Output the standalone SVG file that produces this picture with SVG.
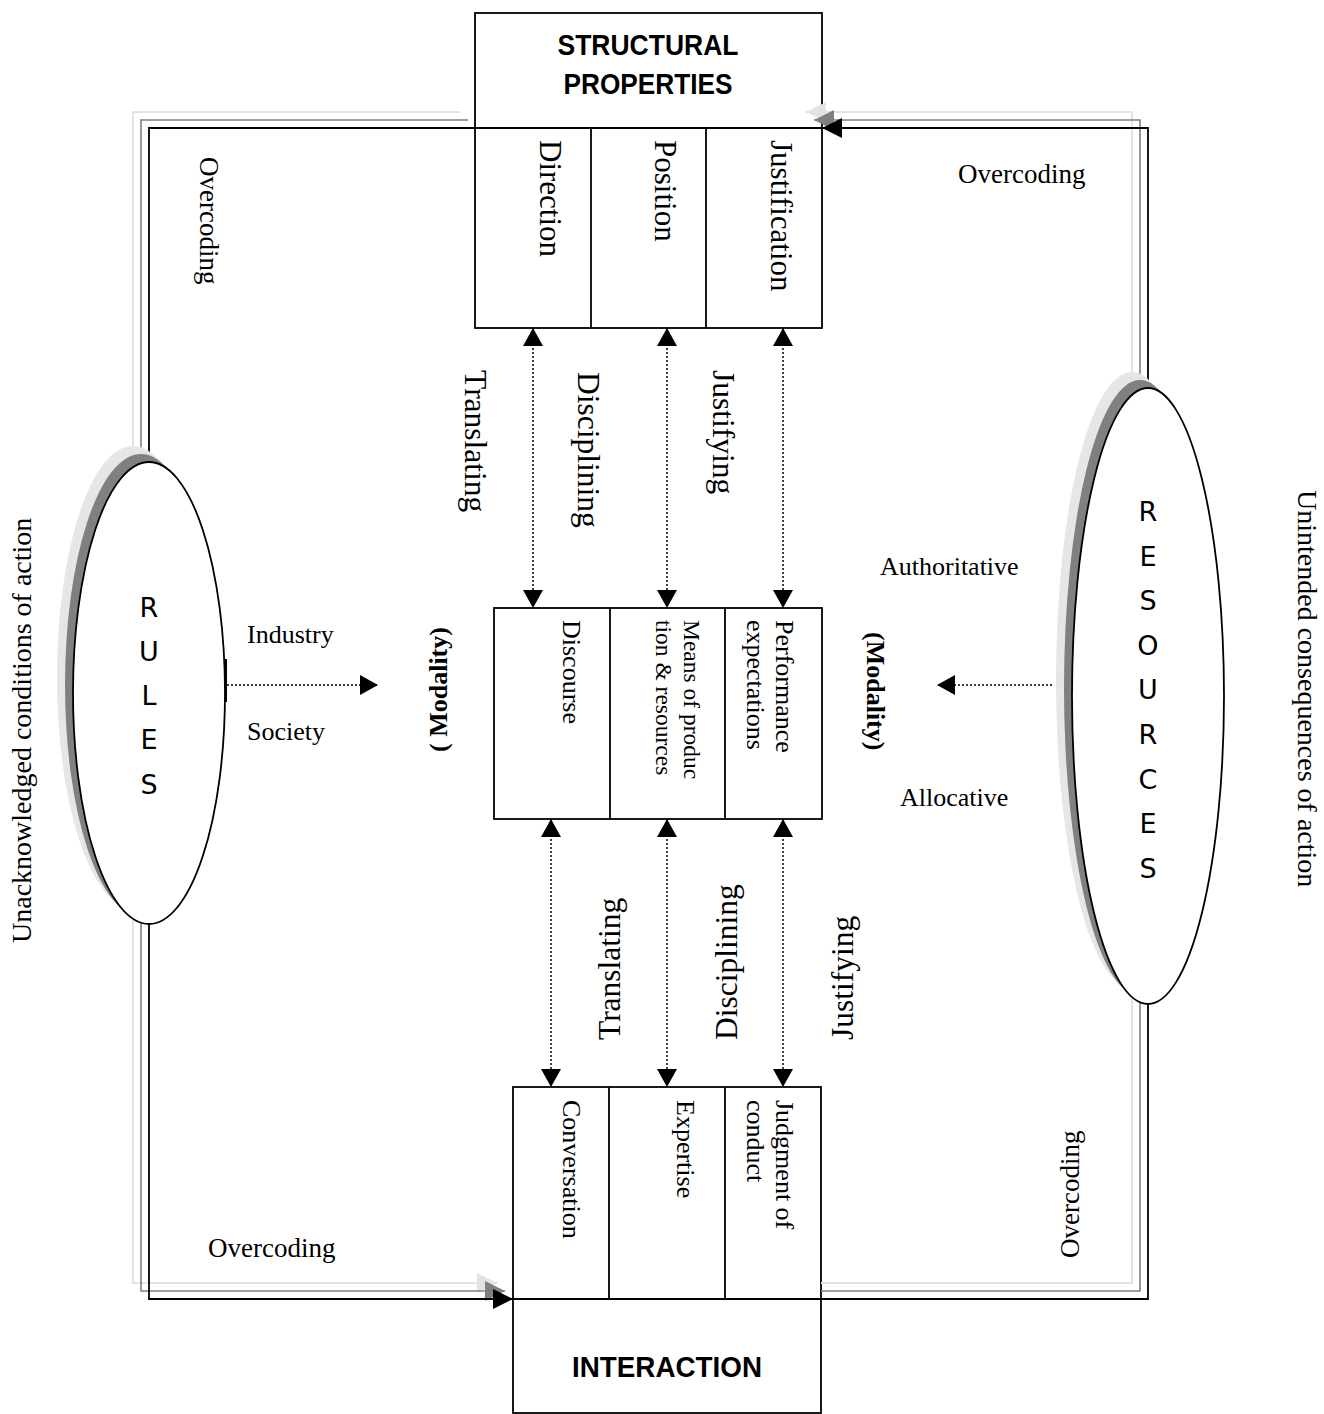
<svg xmlns="http://www.w3.org/2000/svg" width="1324" height="1414" viewBox="0 0 1324 1414">
<style>
.box{fill:#fff;stroke:#000;stroke-width:1.8}
.dv{stroke:#000;stroke-width:1.8}
.t{font-family:"Liberation Serif","Times New Roman",serif;fill:#000}
.b{font-weight:bold}
.h{font-family:"Liberation Sans",Arial,sans-serif;font-weight:bold;fill:#000;text-anchor:middle}
.ltr{font-family:"DejaVu Sans",sans-serif;font-size:27px;fill:#000;text-anchor:middle}
.dot{stroke:#000;stroke-width:1.5;stroke-dasharray:2 2;fill:none}
.lk{stroke:#000;stroke-width:1.8;fill:none}
.lg{stroke:#808080;stroke-width:1.6;fill:none}
.ll{stroke:#e3e3e3;stroke-width:2;fill:none}
.eK{fill:#fff;stroke:#000;stroke-width:1.8}
.eG{fill:#808080}
.eL{fill:#e6e6e6}
</style>
<defs>
<marker id="ah" markerUnits="userSpaceOnUse" markerWidth="20" markerHeight="20" refX="18" refY="10" orient="auto-start-reverse"><path d="M0,0 L18,10 L0,20 z" fill="#000"/></marker>
<marker id="aK" markerUnits="userSpaceOnUse" markerWidth="20" markerHeight="20" refX="20" refY="10" orient="auto"><path d="M0,0 L20,10 L0,20 z" fill="#000"/></marker>
<marker id="aG" markerUnits="userSpaceOnUse" markerWidth="20" markerHeight="20" refX="20" refY="10" orient="auto"><path d="M0,0 L20,10 L0,20 z" fill="#808080"/></marker>
<marker id="aL" markerUnits="userSpaceOnUse" markerWidth="20" markerHeight="20" refX="20" refY="10" orient="auto"><path d="M0,0 L20,10 L0,20 z" fill="#e3e3e3"/></marker>
</defs>

<g id="structural-properties">
<rect class="box" x="475" y="13" width="347" height="315"/>
<line class="dv" x1="475" y1="128" x2="822" y2="128"/>
<line class="dv" x1="591" y1="128" x2="591" y2="328"/>
<line class="dv" x1="706" y1="128" x2="706" y2="328"/>
<text class="h" x="648" y="55" font-size="29" textLength="181" lengthAdjust="spacingAndGlyphs">STRUCTURAL</text>
<text class="h" x="648" y="94" font-size="29" textLength="169" lengthAdjust="spacingAndGlyphs">PROPERTIES</text>
<text class="t" font-size="31" transform="translate(540,140) rotate(90)">Direction</text>
<text class="t" font-size="31" transform="translate(655,140) rotate(90)">Position</text>
<text class="t" font-size="31" transform="translate(771,140) rotate(90)">Justification</text>
</g>

<g id="modality">
<rect class="box" x="494" y="608" width="328" height="211"/>
<line class="dv" x1="610" y1="608" x2="610" y2="819"/>
<line class="dv" x1="725" y1="608" x2="725" y2="819"/>
<text class="t" font-size="26" transform="translate(563,620) rotate(90)">Discourse</text>
<text class="t" font-size="23.5" transform="translate(684,620) rotate(90)">Means of produc</text>
<text class="t" font-size="23.5" transform="translate(656,620) rotate(90)">tion &amp; resources</text>
<text class="t" font-size="26" transform="translate(776,620) rotate(90)">Performance</text>
<text class="t" font-size="26" transform="translate(747,620) rotate(90)">expectations</text>
<text class="t b" font-size="26" transform="translate(447,752) rotate(-90)">( Modality)</text>
<text class="t b" font-size="26" transform="translate(867,632) rotate(90)">(Modality)</text>
</g>

<g id="interaction">
<rect class="box" x="513" y="1087" width="308" height="326"/>
<line class="dv" x1="513" y1="1299" x2="821" y2="1299"/>
<line class="dv" x1="609" y1="1087" x2="609" y2="1299"/>
<line class="dv" x1="725" y1="1087" x2="725" y2="1299"/>
<text class="t" font-size="26" transform="translate(563,1100) rotate(90)">Conversation</text>
<text class="t" font-size="26" transform="translate(677,1100) rotate(90)">Expertise</text>
<text class="t" font-size="26" transform="translate(776,1100) rotate(90)">Judgment of</text>
<text class="t" font-size="26" transform="translate(747,1100) rotate(90)">conduct</text>
<text class="h" x="667" y="1377" font-size="29" textLength="190" lengthAdjust="spacingAndGlyphs">INTERACTION</text>
</g>

<g id="connectors">
<polyline class="ll" points="460,112 133,112 133,1283 497,1283" marker-end="url(#aL)"/>
<polyline class="lg" points="468,120 141,120 141,1291 505,1291" marker-end="url(#aG)"/>
<polyline class="lk" points="475,128 149,128 149,1299 513,1299" marker-end="url(#aK)"/>
<polyline class="ll" points="821,1283 1132,1283 1132,112 806,112" marker-end="url(#aL)"/>
<polyline class="lg" points="821,1291 1140,1291 1140,120 814,120" marker-end="url(#aG)"/>
<polyline class="lk" points="821,1299 1148,1299 1148,128 822,128" marker-end="url(#aK)"/>

<line class="dot" x1="533" y1="328" x2="533" y2="608" marker-start="url(#ah)" marker-end="url(#ah)"/>
<line class="dot" x1="667" y1="328" x2="667" y2="608" marker-start="url(#ah)" marker-end="url(#ah)"/>
<line class="dot" x1="783" y1="328" x2="783" y2="608" marker-start="url(#ah)" marker-end="url(#ah)"/>
<line class="dot" x1="551" y1="819" x2="551" y2="1087" marker-start="url(#ah)" marker-end="url(#ah)"/>
<line class="dot" x1="667" y1="819" x2="667" y2="1087" marker-start="url(#ah)" marker-end="url(#ah)"/>
<line class="dot" x1="783" y1="819" x2="783" y2="1087" marker-start="url(#ah)" marker-end="url(#ah)"/>
<line class="dot" x1="227" y1="685" x2="378" y2="685" marker-end="url(#ah)"/>
<line class="dot" x1="1052" y1="685" x2="937" y2="685" marker-end="url(#ah)"/>

<text class="t" font-size="31.5" transform="translate(465,370) rotate(90)">Translating</text>
<text class="t" font-size="31.5" transform="translate(578,372) rotate(90)">Disciplining</text>
<text class="t" font-size="31.5" transform="translate(713,370) rotate(90)">Justifying</text>
<text class="t" font-size="31.5" transform="translate(620,1040) rotate(-90)">Translating</text>
<text class="t" font-size="31.5" transform="translate(737,1040) rotate(-90)">Disciplining</text>
<text class="t" font-size="31.5" transform="translate(853,1040) rotate(-90)">Justifying</text>

<text class="t" font-size="27" transform="translate(200,157) rotate(90)">Overcoding</text>
<text class="t" font-size="27" x="958" y="183">Overcoding</text>
<text class="t" font-size="27" x="208" y="1257">Overcoding</text>
<text class="t" font-size="27" transform="translate(1079,1258) rotate(-90)">Overcoding</text>

<text class="t" font-size="26" x="247" y="643">Industry</text>
<text class="t" font-size="26" x="247" y="740">Society</text>
<text class="t" font-size="26" x="880" y="575">Authoritative</text>
<text class="t" font-size="26" x="900" y="806">Allocative</text>
</g>

<g id="rules">
<ellipse class="eL" cx="133" cy="677" rx="76" ry="231"/>
<ellipse class="eG" cx="141" cy="685" rx="76" ry="231"/>
<ellipse class="eK" cx="149" cy="693" rx="76" ry="231"/>
<line stroke="#000" stroke-width="2" x1="226" y1="659" x2="226" y2="702"/>
<text class="ltr" x="149" y="617">R</text>
<text class="ltr" x="149" y="661">U</text>
<text class="ltr" x="149" y="705">L</text>
<text class="ltr" x="149" y="749">E</text>
<text class="ltr" x="149" y="794">S</text>
</g>

<g id="resources">
<ellipse class="eL" cx="1132" cy="680" rx="76" ry="308"/>
<ellipse class="eG" cx="1140" cy="688" rx="76" ry="308"/>
<ellipse class="eK" cx="1148" cy="696" rx="76" ry="308"/>
<text class="ltr" x="1148" y="521">R</text>
<text class="ltr" x="1148" y="566">E</text>
<text class="ltr" x="1148" y="610">S</text>
<text class="ltr" x="1148" y="655">O</text>
<text class="ltr" x="1148" y="699">U</text>
<text class="ltr" x="1148" y="744">R</text>
<text class="ltr" x="1148" y="789">C</text>
<text class="ltr" x="1148" y="833">E</text>
<text class="ltr" x="1148" y="878">S</text>
</g>

<g id="side-labels">
<text class="t" font-size="28" transform="translate(31,943) rotate(-90)">Unacknowledged conditions of action</text>
<text class="t" font-size="28" transform="translate(1298,490) rotate(90)">Unintended consequences of action</text>
</g>
</svg>
